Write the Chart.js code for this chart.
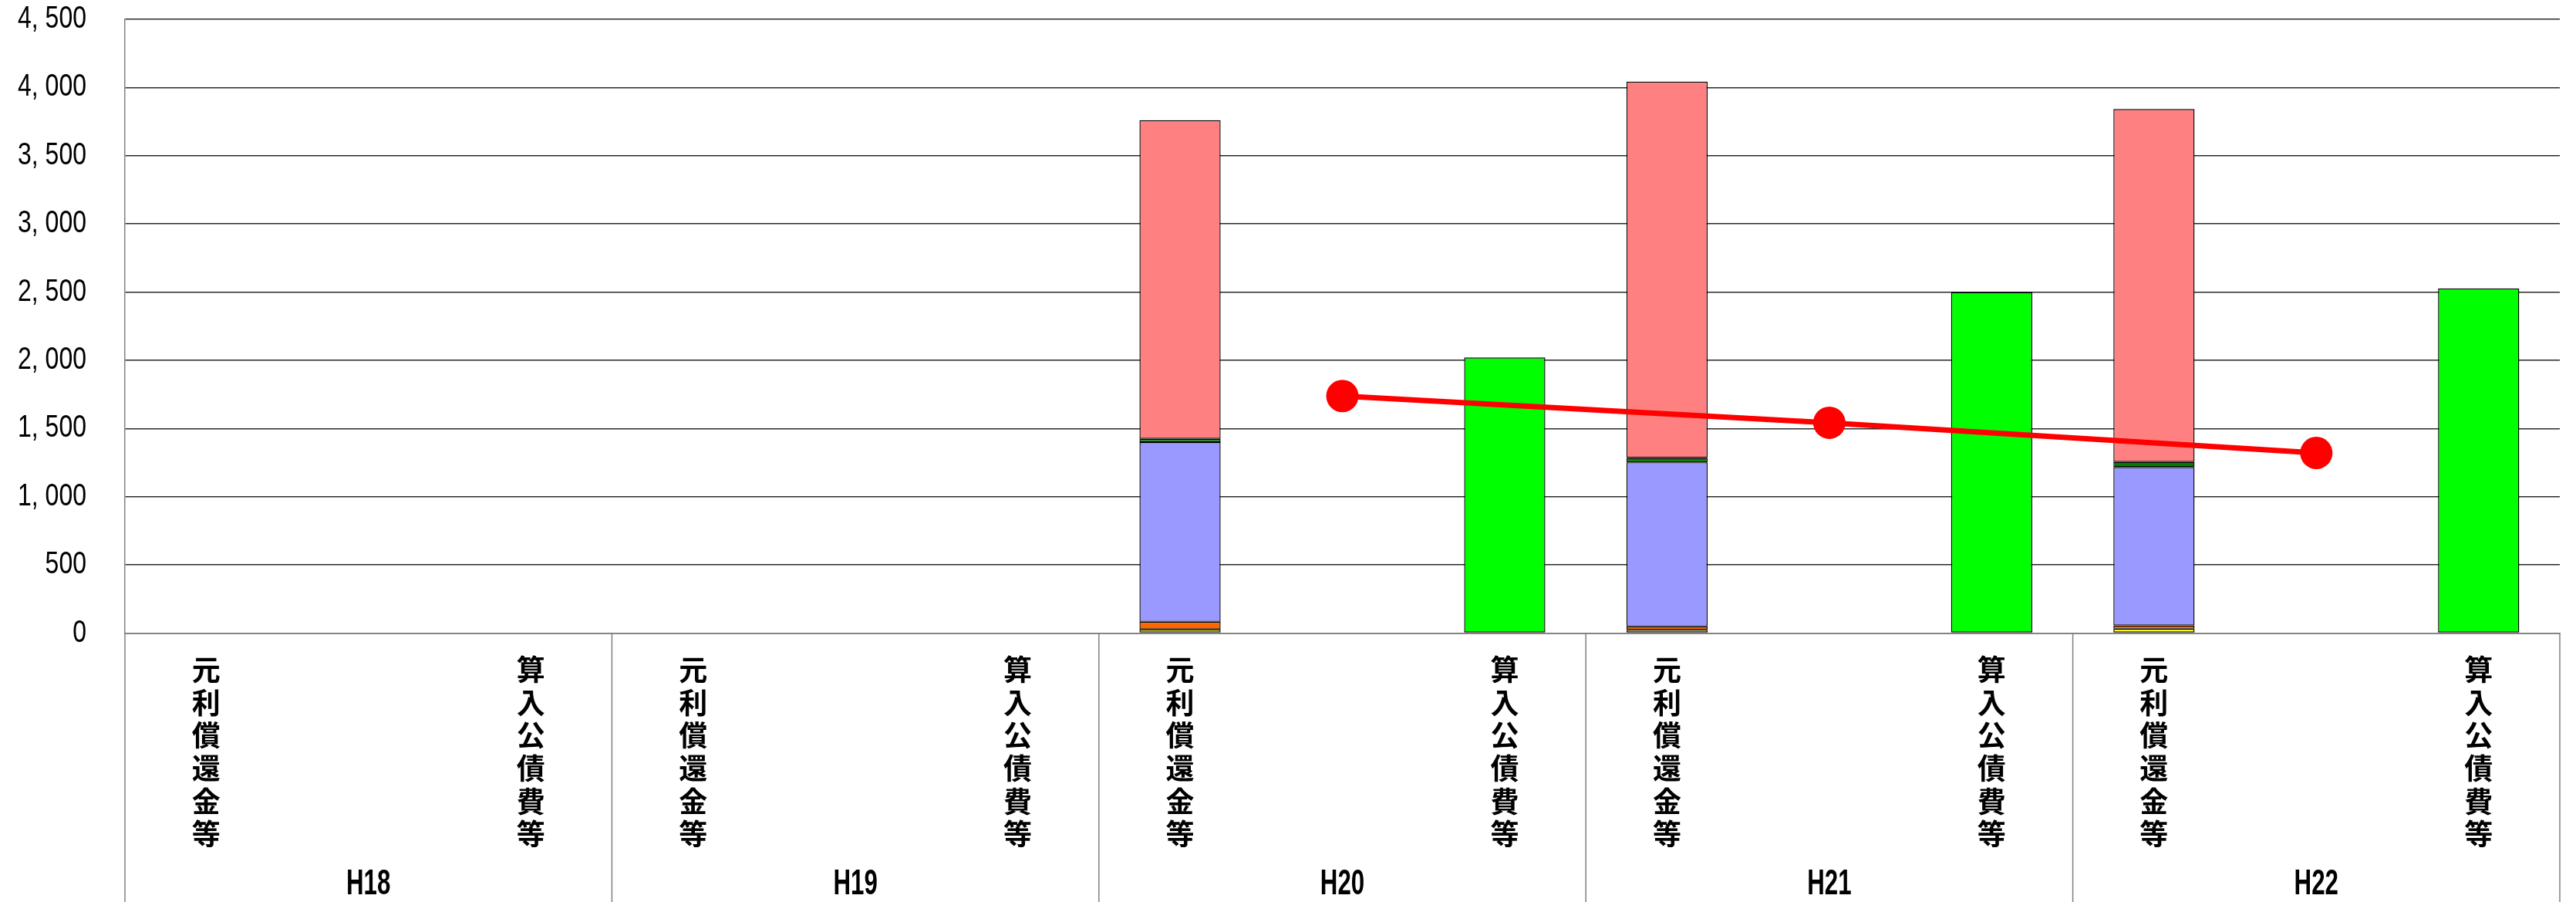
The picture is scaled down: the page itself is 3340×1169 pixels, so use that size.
<!DOCTYPE html>
<html>
<head>
<meta charset="utf-8">
<script src="https://cdn.jsdelivr.net/npm/chart.js@4/dist/chart.umd.min.js"></script>
<style>
  html, body { margin: 0; padding: 0; background: #fff; }
  #wrap { width: 3340px; height: 1169px; }
</style>
</head>
<body>
<div id="wrap"><canvas id="grafic" width="3340" height="1169"></canvas></div>
<script>
"use strict";

// fiscal years (one group each)
const years = ['H18', 'H19', 'H20', 'H21', 'H22'];
// slots inside a year: left bar, middle (line point), right bar
const slotLabels = ['元利償還金等', '', '算入公債費等'];

// stacked parts of 元利償還金等, bottom to top (null = no data)
const partYellow = [null, null, 27, 23, 32];
const partOrange = [null, null, 56, 26, 24];
const partBlue   = [null, null, 1317, 1203, 1161];
const partGreen  = [null, null, 24, 32, 38];
const partPink   = [null, null, 2337, 2759, 2587];
// 算入公債費等
const sannyu = [null, null, 2021, 2500, 2527];
// line in the middle slot
const lineVals = [null, null, 1738, 1542, 1321];

const yTicks = [0, 500, 1000, 1500, 2000, 2500, 3000, 3500, 4000, 4500];

// spread a per-year array into one of the three slots
function toSlots(arr, slot) {
    let out = [];
    for (let i = 0; i < arr.length; i++) {
        for (let s = 0; s < 3; s++) {
            out.push(s === slot ? arr[i] : null);
        }
    }
    return out;
}

let labels = [];
for (let i = 0; i < years.length; i++) {
    for (let s = 0; s < 3; s++) {
        labels.push(slotLabels[s].split(''));
    }
}

function barSet(name, data, slot, color) {
    return {
        type: 'bar',
        label: name,
        data: toSlots(data, slot),
        backgroundColor: color,
        borderColor: '#000',
        borderWidth: 1.4,
        borderSkipped: false,
        barPercentage: 0.5,
        categoryPercentage: 1,
        order: 1
    };
}

function fmt(v) {
    return v.toLocaleString('en-US').replace(',', ', ');
}

// draw text squeezed horizontally (original uses a narrow gothic font)
function narrowText(ctx, txt, x, y, sx) {
    ctx.save();
    ctx.translate(x, y);
    ctx.scale(sx, 1);
    ctx.fillText(txt, 0, 0);
    ctx.restore();
}

// y tick texts, separators + year labels under the axis
const groupPlugin = {
    id: 'groups',
    afterDraw(chart) {
        let ctx = chart.ctx;
        let x = chart.scales.x;
        let y = chart.scales.y;
        let area = chart.chartArea;
        let step = x.getPixelForValue(1) - x.getPixelForValue(0);
        ctx.save();
        ctx.strokeStyle = '#808080';
        ctx.lineWidth = 1.5;
        for (let g = 0; g <= years.length; g++) {
            let px = x.getPixelForValue(g * 3) - step / 2;
            ctx.beginPath();
            ctx.moveTo(px, area.bottom);
            ctx.lineTo(px, chart.height);
            ctx.stroke();
        }
        ctx.fillStyle = '#000';
        ctx.textBaseline = 'middle';

        ctx.font = '40px "Liberation Sans", sans-serif';
        ctx.textAlign = 'right';
        y.ticks.forEach(function (t) {
            narrowText(ctx, fmt(t.value), 112, y.getPixelForValue(t.value), 0.8);
        });

        ctx.font = 'bold 46px "Liberation Sans", sans-serif';
        ctx.textAlign = 'center';
        for (let g = 0; g < years.length; g++) {
            narrowText(ctx, years[g], x.getPixelForValue(g * 3 + 1), 1146, 0.68);
        }
        ctx.restore();
    }
};

function main() {
    new Chart(document.getElementById('grafic'), {
        data: {
            labels: labels,
            datasets: [
                {
                    type: 'line',
                    label: 'line',
                    data: toSlots(lineVals, 1),
                    borderColor: '#FF0000',
                    backgroundColor: '#FF0000',
                    borderWidth: 7,
                    pointRadius: 21,
                    pointBorderWidth: 0,
                    spanGaps: true,
                    order: 0
                },
                barSet('part1', partYellow, 0, '#FFFF00'),
                barSet('part2', partOrange, 0, '#FF6600'),
                barSet('part3', partBlue, 0, '#9999FF'),
                barSet('part4', partGreen, 0, '#008000'),
                barSet('part5', partPink, 0, '#FF8080'),
                barSet('算入公債費等', sannyu, 2, '#00FF00')
            ]
        },
        options: {
            responsive: false,
            animation: false,
            devicePixelRatio: 1,
            layout: { padding: { top: 25, right: 3, left: 0, bottom: 0 } },
            plugins: {
                legend: { display: false },
                tooltip: { enabled: false }
            },
            scales: {
                x: {
                    stacked: true,
                    grid: { display: false, drawTicks: false },
                    border: { display: true, color: '#808080', width: 1.5 },
                    ticks: {
                        autoSkip: false,
                        maxRotation: 0,
                        minRotation: 0,
                        padding: 26,
                        color: '#000',
                        font: { family: '"Noto Sans CJK JP", sans-serif', size: 37, weight: 'bold', lineHeight: 1.154 }
                    },
                    afterFit: function (scale) {
                        scale.height = 348.5;
                        scale.paddingLeft = 0;
                        scale.paddingRight = 0;
                    }
                },
                y: {
                    stacked: true,
                    min: 0,
                    max: 4500,
                    afterBuildTicks: function (scale) {
                        scale.ticks = yTicks.map(v => ({ value: v }));
                    },
                    grid: { color: '#2a2a2a', lineWidth: 1.6, drawTicks: false },
                    border: { display: true, color: '#808080', width: 1.5 },
                    ticks: { display: false },
                    afterFit: function (scale) {
                        scale.width = 162;
                        scale.paddingTop = 0;
                        scale.paddingBottom = 0;
                    }
                }
            }
        },
        plugins: [groupPlugin]
    });
}

document.addEventListener('DOMContentLoaded', main);
</script>
</body>
</html>
